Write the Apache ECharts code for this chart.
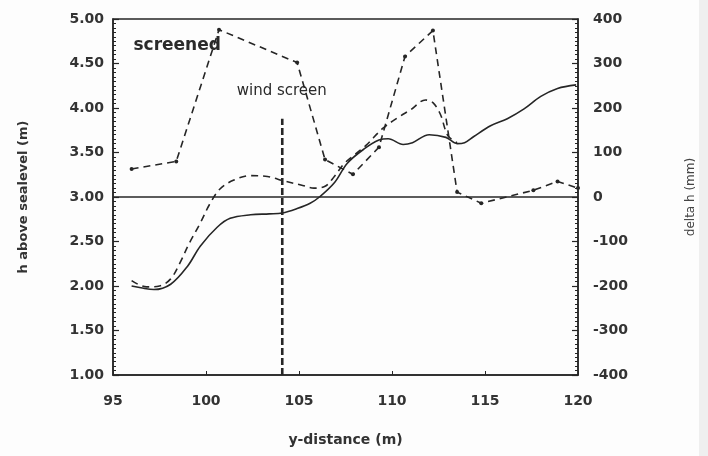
<!DOCTYPE html>
<html>
<head>
<meta charset="utf-8">
<script src="https://cdn.jsdelivr.net/npm/echarts@6/dist/echarts.min.js"></script>
<style>
html,body{margin:0;padding:0;background:#fdfdfd;}
#chart{width:708px;height:456px;}
</style>
</head>
<body>
<div id="chart"></div>
<script>
// ---- data ----
const hSolid = [
  [96.0,2.00],[96.5,1.98],[97.2,1.96],[98.1,2.02],[99.0,2.22],[99.7,2.45],[100.6,2.66],
  [101.3,2.76],[102.4,2.80],[103.4,2.81],[104.1,2.82],[104.9,2.87],[105.6,2.93],[106.1,3.00],
  [106.9,3.16],[107.6,3.38],[108.5,3.54],[109.3,3.64],[109.8,3.655],[110.6,3.59],[111.1,3.61],
  [112.0,3.70],[112.9,3.67],[113.5,3.60],[113.9,3.61],[114.4,3.68],[115.3,3.80],[116.2,3.88],
  [117.1,3.99],[118.0,4.13],[118.9,4.22],[119.9,4.26]
];
const hScreened = [
  [96.0,2.06],[96.8,1.99],[97.5,2.00],[98.1,2.08],[98.6,2.26],[99.1,2.48],[99.7,2.71],
  [100.2,2.92],[100.75,3.09],[101.5,3.19],[102.4,3.24],[103.3,3.23],[104.2,3.18],[105.2,3.13],
  [105.8,3.10],[106.4,3.12],[106.9,3.23],[107.4,3.37],[107.9,3.46],[108.6,3.58],[109.5,3.77],
  [110.3,3.89],[111.0,3.98],[111.8,4.09],[112.2,4.06],[112.6,3.93],[113.0,3.69],[113.5,3.61]
];
const deltaX = [96.0,98.4,100.7,104.9,106.4,107.9,109.3,110.7,112.2,113.5,114.8,117.6,118.9,120.0];
const deltaH = [63,80,376,302,84,51,112,316,374,11,-14,15,35,20];
const windScreenLine = [[104.1,1.00],[104.1,3.88]];
const zeroLine = [0];
const annotations = [
  {text:'screened', x:96.1, y:4.70, size:17, weight:'bold'},
  {text:'wind screen', x:101.65, y:4.19, size:15, weight:'normal'}
];
const xRange = [95,120];
const leftRange = [1,5];
const rightRange = [-400,400];

const ink = '#262626';
const chart = echarts.init(document.getElementById('chart'));
const font = 'DejaVu Sans';

const option = {
  backgroundColor:'#fdfdfd',
  animation:false,
  grid:{left:113,right:130,top:19,bottom:81,show:true,borderColor:ink,borderWidth:1.5,backgroundColor:'transparent'},
  xAxis:{
    type:'value',min:xRange[0],max:xRange[1],interval:5,
    name:'y-distance (m)',nameLocation:'middle',nameGap:58,
    nameTextStyle:{fontFamily:font,fontSize:14,fontWeight:'bold',color:'#333'},
    axisLine:{show:true,onZero:false,lineStyle:{color:ink,width:1.5}},
    axisTick:{show:true,inside:true,length:4,lineStyle:{color:ink}},
    axisLabel:{fontFamily:font,fontSize:14,fontWeight:'bold',color:'#333',margin:19},
    splitLine:{show:false}
  },
  yAxis:[
    {
      type:'value',min:leftRange[0],max:leftRange[1],interval:0.5,position:'left',
      name:'h above sealevel (m)',nameLocation:'middle',nameGap:83,nameRotate:90,
      nameTextStyle:{fontFamily:font,fontSize:13,fontWeight:'bold',color:'#333'},
      axisLine:{show:true,onZero:false,lineStyle:{color:ink,width:1.5}},
      axisTick:{show:true,inside:true,length:6,lineStyle:{color:ink,width:1.2}},
      minorTick:{show:true,splitNumber:10,length:3,lineStyle:{color:ink,width:1}},
      axisLabel:{fontFamily:font,fontSize:14,fontWeight:'bold',color:'#333',margin:9,
        formatter:v=>v.toFixed(2)},
      splitLine:{show:false}
    },
    {
      type:'value',min:rightRange[0],max:rightRange[1],interval:100,position:'right',
      name:'delta h (mm)',nameLocation:'middle',nameGap:107,nameRotate:90,
      nameTextStyle:{fontFamily:font,fontSize:12,color:'#444'},
      axisLine:{show:true,onZero:false,lineStyle:{color:ink,width:1.5}},
      axisTick:{show:true,inside:true,length:6,lineStyle:{color:ink,width:1.2}},
      minorTick:{show:true,splitNumber:10,length:3,lineStyle:{color:ink,width:1}},
      axisLabel:{fontFamily:font,fontSize:14,fontWeight:'bold',color:'#333',margin:15},
      splitLine:{show:false}
    }
  ],
  series:[
    {
      name:'h',type:'line',yAxisIndex:0,data:hSolid,smooth:0.35,showSymbol:false,
      lineStyle:{color:ink,width:1.6}
    },
    {
      name:'h screened',type:'line',yAxisIndex:0,data:hScreened,smooth:0.35,showSymbol:false,
      lineStyle:{color:ink,width:1.6,type:[7,5]}
    },
    {
      name:'delta h',type:'line',yAxisIndex:1,
      data:deltaX.map((x,i)=>[x,deltaH[i]]),
      symbol:'circle',symbolSize:4,showSymbol:true,
      itemStyle:{color:ink},
      lineStyle:{color:ink,width:1.6,type:[7,5]},
      markLine:{
        silent:true,symbol:['none','none'],label:{show:false},
        lineStyle:{color:ink,width:1.6,type:'solid'},
        data:zeroLine.map(v=>({yAxis:v}))
      }
    },
    {
      name:'wind screen',type:'line',yAxisIndex:0,data:windScreenLine,showSymbol:false,
      lineStyle:{color:ink,width:2.6,type:[7,3]}
    }
  ]
};
chart.setOption(option);

const graphics = annotations.map(a=>{
  const p = chart.convertToPixel({xAxisIndex:0,yAxisIndex:0},[a.x,a.y]);
  return {type:'text',x:p[0],y:p[1],style:{text:a.text,fill:'#2a2a2a',
    font:a.weight+' '+a.size+'px "'+font+'"',textAlign:'left',textVerticalAlign:'middle'}};
});
graphics.push({type:'rect',shape:{x:699,y:0,width:9,height:456},style:{fill:'#efefef'},silent:true});
chart.setOption({graphic:graphics});
</script>
</body>
</html>
